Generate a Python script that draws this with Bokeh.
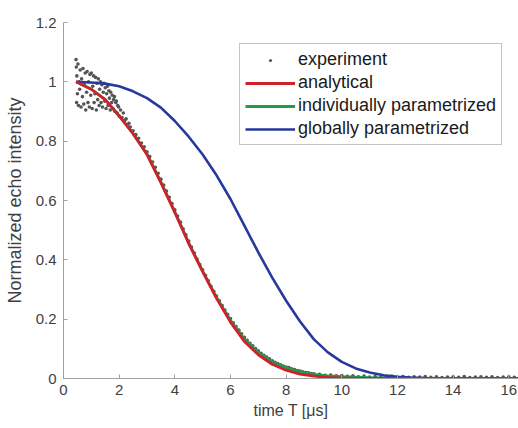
from bokeh.plotting import figure
from bokeh.models import Range1d, Legend, LegendItem, FixedTicker
from bokeh.embed import file_html
from bokeh.resources import INLINE

# ---- data ----
exp_t = [0.45, 0.46, 0.47, 0.48, 0.50, 0.52, 0.54, 0.56, 0.58, 0.60, 0.63, 0.65, 0.68, 0.70,
         0.73, 0.75, 0.78, 0.80, 0.83, 0.85, 0.88, 0.90, 0.93, 0.95, 0.98, 1.00, 1.03, 1.05,
         1.08, 1.10, 1.13, 1.15, 1.18, 1.20, 1.23, 1.25, 1.28, 1.30, 1.33, 1.35, 1.38, 1.40,
         1.43, 1.45, 1.48, 1.50, 1.53, 1.55, 1.58, 1.60, 1.63, 1.65, 1.68, 1.70, 1.73, 1.75,
         1.78, 1.80, 1.83, 1.85, 1.88, 1.90, 1.93, 1.95, 1.98, 2.00, 2.05, 2.10, 2.15, 2.20,
         2.25, 2.30, 2.35,
         2.4, 2.5, 2.6, 2.7, 2.8, 2.9, 3.0, 3.1, 3.2, 3.3, 3.4, 3.5, 3.6, 3.7, 3.8, 3.9,
         4.0, 4.1, 4.2, 4.3, 4.4, 4.5, 4.6, 4.7, 4.8, 4.9, 5.0, 5.1, 5.2, 5.3, 5.4, 5.5,
         5.6, 5.7, 5.8, 5.9, 6.0, 6.1, 6.2, 6.3, 6.4, 6.5, 6.6, 6.7, 6.8, 6.9, 7.0, 7.1,
         7.2, 7.3, 7.4, 7.5, 7.6, 7.7, 7.8, 7.9, 8.0, 8.1, 8.2, 8.3, 8.4, 8.5, 8.6, 8.7,
         8.8, 8.9, 9.0,
         9.2, 9.4, 9.6, 9.8, 10.0, 10.2, 10.4, 10.6, 10.8, 11.0, 11.2, 11.4, 11.6, 11.8,
         12.0, 12.2, 12.4, 12.6, 12.8, 13.0, 13.2, 13.4, 13.6, 13.8, 14.0, 14.2, 14.4, 14.6,
         14.8, 15.0, 15.2, 15.4, 15.6, 15.8, 16.0, 16.2]
exp_y = [1.075, 1.05, 0.93, 1.02, 0.96, 1.06, 0.92, 1.0, 0.975, 1.04, 0.915, 1.01, 0.95, 1.045,
         0.925, 0.99, 1.03, 0.905, 0.965, 1.035, 0.93, 1.0, 0.915, 1.025, 0.955, 1.03, 0.91, 0.985,
         1.02, 0.93, 0.96, 1.015, 0.905, 0.995, 0.94, 1.01, 0.92, 0.975, 1.0, 0.93, 0.99, 0.915,
         0.965, 0.995, 0.935, 0.98, 0.91, 0.96, 0.985, 0.92, 0.97, 0.945, 0.905, 0.965, 0.93, 0.955,
         0.91, 0.94, 0.95, 0.90, 0.93, 0.935, 0.895, 0.92, 0.915, 0.885, 0.905, 0.88, 0.895, 0.87,
         0.875, 0.855, 0.86,
         0.848, 0.835, 0.822, 0.81, 0.794, 0.781, 0.764, 0.748, 0.73, 0.712, 0.692, 0.672, 0.652, 0.632, 0.611, 0.59,
         0.569, 0.548, 0.527, 0.505, 0.484, 0.463, 0.443, 0.423, 0.403, 0.384, 0.366, 0.348, 0.33, 0.311, 0.294, 0.278,
         0.262, 0.246, 0.231, 0.216, 0.202, 0.188, 0.175, 0.163, 0.151, 0.139, 0.129, 0.119, 0.11, 0.101, 0.093, 0.085,
         0.078, 0.072, 0.066, 0.06, 0.055, 0.05, 0.046, 0.042, 0.039, 0.037, 0.033, 0.03, 0.027, 0.025, 0.023, 0.02,
         0.019, 0.017, 0.016,
         0.014, 0.011, 0.012, 0.009, 0.01, 0.007, 0.009, 0.006, 0.008, 0.005, 0.007, 0.004, 0.006, 0.008,
         0.005, 0.007, 0.004, 0.006, 0.005, 0.007, 0.004, 0.006, 0.003, 0.005, 0.006, 0.004, 0.007, 0.003,
         0.005, 0.006, 0.004, 0.006, 0.003, 0.005, 0.006, 0.004]

analytical_t = [0.45, 1.0, 1.5, 2.0, 2.5, 3.0, 3.5, 4.0, 4.5, 5.0, 5.5, 6.0, 6.5, 7.0, 7.5,
                8.0, 8.5, 9.0, 9.5, 10.0, 10.5, 11.0, 12.0, 16.35]
analytical_y = [1.0, 0.975, 0.94, 0.885, 0.825, 0.755, 0.66, 0.56, 0.455, 0.36, 0.27, 0.19, 0.125, 0.08, 0.048,
                0.028, 0.015, 0.008, 0.004, 0.002, 0.001, 0.0005, 0.0, 0.0]

individual_t = [0.45, 1.0, 1.5, 2.0, 2.5, 3.0, 3.5, 4.0, 4.5, 5.0, 5.5, 6.0, 6.5, 7.0, 7.5,
                8.0, 8.5, 9.0, 9.5, 10.0, 11.0, 12.0, 13.0, 16.35]
individual_y = [1.0, 0.975, 0.94, 0.885, 0.826, 0.757, 0.662, 0.562, 0.457, 0.362, 0.273, 0.196, 0.133, 0.088, 0.056,
                0.036, 0.022, 0.014, 0.009, 0.006, 0.003, 0.001, 0.0005, 0.0]

global_t = [0.45, 1.0, 1.5, 2.0, 2.5, 3.0, 3.5, 4.0, 4.5, 5.0, 5.5, 6.0, 6.5, 7.0, 7.5, 8.0,
            8.5, 9.0, 9.5, 10.0, 10.5, 11.0, 11.5, 12.0, 12.5, 13.0, 14.0, 16.35]
global_y = [1.0, 0.998, 0.994, 0.985, 0.968, 0.945, 0.913, 0.868, 0.815, 0.755, 0.685, 0.605, 0.515, 0.425, 0.34, 0.262,
            0.192, 0.132, 0.088, 0.056, 0.034, 0.02, 0.011, 0.006, 0.003, 0.0015, 0.0003, 0.0]

x_ticks = [0, 2, 4, 6, 8, 10, 12, 14, 16]
y_ticks = [0, 0.2, 0.4, 0.6, 0.8, 1.0, 1.2]
y_tick_labels = ["0", "0.2", "0.4", "0.6", "0.8", "1", "1.2"]

FONT = "Liberation Sans"
RED = "#d0202a"
GREEN = "#1f9d4a"
BLUE = "#26399c"
DOT = "#555555"

p = figure(width=518, height=428, x_range=Range1d(0, 16.35), y_range=Range1d(0, 1.2),
           toolbar_location=None, output_backend="svg",
           min_border_left=63, min_border_right=0, min_border_top=22, min_border_bottom=50)
p.background_fill_color = "white"
p.border_fill_color = "white"
p.outline_line_color = None
p.grid.visible = False

r_exp = p.scatter(exp_t, exp_y, size=3.6, color=DOT, line_color=None)
r_ind = p.line(individual_t, individual_y, line_color=GREEN, line_width=2.8)
r_glob = p.line(global_t, global_y, line_color=BLUE, line_width=2.6)
r_ana = p.line(analytical_t, analytical_y, line_color=RED, line_width=2.8)

for ax in (p.xaxis[0], p.yaxis[0]):
    ax.axis_line_color = "#a0a0a0"
    ax.major_tick_line_color = "#a0a0a0"
    ax.major_tick_in = 4
    ax.major_tick_out = 0
    ax.minor_tick_line_color = None
    ax.major_label_text_font = FONT
    ax.major_label_text_font_size = "15px"
    ax.major_label_text_color = "#404040"
    ax.axis_label_text_font = FONT
    ax.axis_label_text_font_style = "normal"
    ax.axis_label_text_color = "#404040"

p.xaxis.ticker = FixedTicker(ticks=x_ticks)
p.yaxis.ticker = FixedTicker(ticks=y_ticks)
p.yaxis.major_label_overrides = {v: s for v, s in zip(y_ticks, y_tick_labels)}
p.xaxis.axis_label = "time T [μs]"
p.yaxis.axis_label = "Normalized echo intensity"
p.xaxis.axis_label_text_font_size = "16px"
p.yaxis.axis_label_text_font_size = "18px"
p.xaxis.major_label_standoff = 6
p.yaxis.major_label_standoff = 7
p.xaxis.axis_label_standoff = 4
p.yaxis.axis_label_standoff = 8

legend = Legend(items=[
    LegendItem(label="experiment", renderers=[r_exp]),
    LegendItem(label="analytical", renderers=[r_ana]),
    LegendItem(label="individually parametrized", renderers=[r_ind]),
    LegendItem(label="globally parametrized", renderers=[r_glob]),
], location=(176, 233))
legend.label_text_font = FONT
legend.label_text_font_size = "18px"
legend.label_text_color = "#1a1a1a"
legend.glyph_width = 50
legend.glyph_height = 8
legend.label_height = 20
legend.label_standoff = 3
legend.spacing = 2
legend.padding = 5
legend.margin = 0
legend.border_line_color = "#8a8a8a"
legend.border_line_width = 1
legend.background_fill_alpha = 1.0
p.add_layout(legend, "center")

open("out.html", "w").write(file_html(p, INLINE))
